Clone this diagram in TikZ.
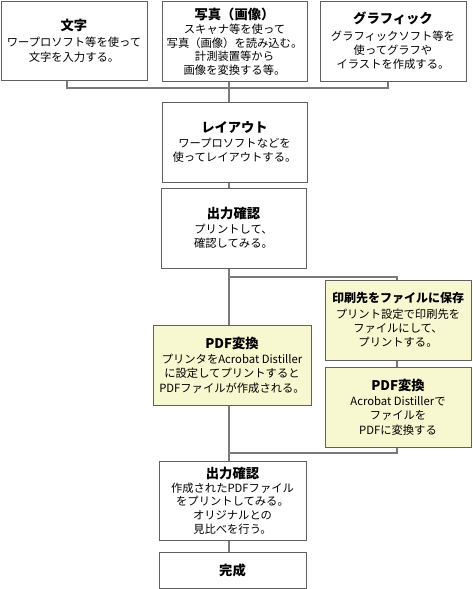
\documentclass[tikz,border=0pt]{standalone}
\usepackage{fontspec}
\setmainfont{Noto Sans CJK JP}
\usetikzlibrary{backgrounds}
\definecolor{boxgray}{HTML}{606060}
\definecolor{linegray}{HTML}{7A7A7A}
\definecolor{paleyellow}{HTML}{F7F7D0}
\newcommand{\ttl}[1]{{\bfseries\fontsize{13.3}{15}\selectfont #1}}
\newcommand{\ttls}[1]{{\bfseries\fontsize{12}{15}\selectfont #1}}
\tikzset{
  box/.style={draw=boxgray, line width=1pt, fill=white, align=center, inner sep=0pt,
    font=\fontsize{11.3}{14.2}\selectfont},
  ybox/.style={box, fill=paleyellow},
  tight/.style={font=\fontsize{11.3}{13.6}\selectfont},
  conn/.style={draw=linegray, line width=2pt},
}
\begin{document}
\begin{tikzpicture}[x=1pt,y=-1pt]
\useasboundingbox (0,0) rectangle (472,589);
\node[box, minimum width=146, minimum height=79] (moji) at (74,40.5)
  {\ttl{文字}\\[2.5pt]ワープロソフト等を使って\\文字を入力する。};
\node[box, tight, minimum width=145, minimum height=80] (shashin) at (234.5,41.5)
  {\ttl{写真（画像）}\\[0.5pt]スキャナ等を使って\\写真（画像）を読み込む。\\計測装置等から\\画像を変換する等。};
\node[box, minimum width=146, minimum height=80] (graph) at (393,41)
  {\ttl{グラフィック}\\[2.5pt]グラフィックソフト等を\\使ってグラフや\\イラストを作成する。};
\node[box, minimum width=145, minimum height=80] (layout) at (234.5,142)
  {\ttl{レイアウト}\\[1pt]ワープロソフトなどを\\使ってレイアウトする。};
\node[box, minimum width=145, minimum height=80] (check1) at (233.5,228)
  {\ttl{出力確認}\\[1pt]プリントして、\\確認してみる。};
\node[ybox, minimum width=146, minimum height=80] (print) at (398,320)
  {\ttls{印刷先をファイルに保存}\\[1pt]プリント設定で印刷先を\\ファイルにして、\\プリントする。};
\node[ybox, minimum width=146, minimum height=80] (pdfr) at (398,407)
  {\ttl{PDF変換}\\[1pt]Acrobat Distillerで\\ファイルを\\PDFに変換する};
\node[ybox, minimum width=158, minimum height=80] (pdfl) at (232,365)
  {\ttl{PDF変換}\\[1pt]プリンタをAcrobat Distiller\\に設定してプリントすると\\PDFファイルが作成される。};
\node[box, tight, minimum width=147, minimum height=79] (check2) at (232.5,500.5)
  {\ttl{出力確認}\\[0.5pt]作成されたPDFファイル\\をプリントしてみる。\\オリジナルとの\\見比べを行う。};
\node[box, minimum width=147, minimum height=36] (done) at (232.5,570)
  {\ttl{完成}};
\coordinate (sp) at (229,0);
\coordinate (rs) at (397,0);
\coordinate (top) at (0,88);
\coordinate (br) at (0,277);
\coordinate (mg) at (0,453);
\begin{pgfonlayer}{background}
\draw[conn] ([xshift=-7pt]moji.south) -- ([xshift=-7pt]moji.south |- top) -- ([xshift=-5pt]graph.south |- top) -- ([xshift=-5pt]graph.south);
\draw[conn] (shashin.south -| sp) -- (layout.north -| sp);
\draw[conn] (layout.south -| sp) -- (check1.north -| sp);
\draw[conn] (check1.south -| sp) -- (check2.north -| sp);
\draw[conn] (sp |- br) -- (rs |- br) -- (print.north -| rs);
\draw[conn] (print.south -| rs) -- (pdfr.north -| rs);
\draw[conn] (pdfr.south -| rs) -- (rs |- mg) -- (sp |- mg);
\draw[conn] (check2.south -| sp) -- (done.north -| sp);
\end{pgfonlayer}
\end{tikzpicture}
\end{document}
